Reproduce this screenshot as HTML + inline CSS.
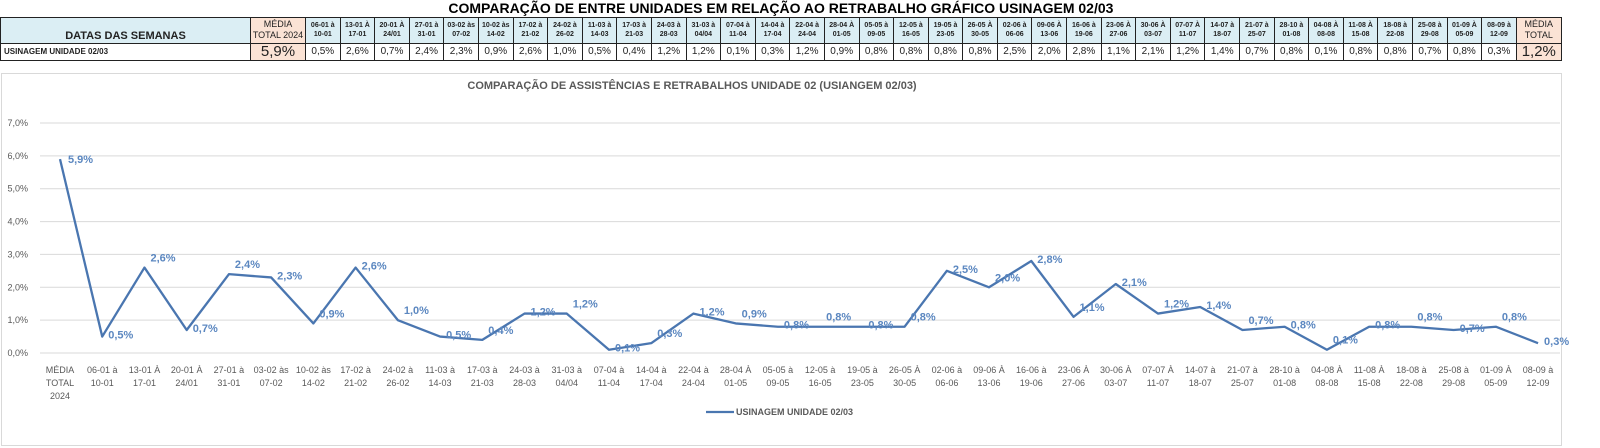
<!DOCTYPE html>
<html style="overflow:hidden;width:1600px;height:448px"><head><meta charset="utf-8">
<style>
html,body{margin:0;padding:0}
body{width:1600px;height:448px;background:#fff;font-family:"Liberation Sans",Arial,sans-serif;overflow:hidden;position:relative}
#wrap{position:absolute;left:0;top:0;width:1600px;height:448px;overflow:hidden}
#tbl{position:absolute;left:0;top:0;border-collapse:collapse;table-layout:fixed;width:1561px}
#tbl td{border:1px solid #222;padding:0;text-align:center;overflow:hidden;white-space:nowrap;box-sizing:border-box}
.h{background:#dbeef4;font-size:7px;font-weight:bold;line-height:9px;color:#222}
.v{font-size:10px;color:#222}
.m{background:#fbe3d5}
#chart{position:absolute;left:0;top:0}
</style></head><body>
<div id="wrap">
<table id="tbl">
<colgroup id="cg"></colgroup>
<tr style="height:17px"><td id="ttl" colspan="38" style="border:none;font-weight:bold;font-size:14px;text-align:center">COMPARAÇÃO DE ENTRE UNIDADES EM RELAÇÃO AO RETRABALHO GRÁFICO USINAGEM 02/03</td></tr>
<tr id="hr" style="height:26px"></tr>
<tr id="vr" style="height:17px"></tr>
</table>
<svg id="chart" width="1600" height="448"></svg>
</div>
<script>
const categories=["MÉDIA|TOTAL|2024","06-01 à|10-01","13-01 À|17-01","20-01 À|24/01","27-01 à|31-01","03-02 às|07-02","10-02 às|14-02","17-02 à|21-02","24-02 à|26-02","11-03 à|14-03","17-03 à|21-03","24-03 à|28-03","31-03 à|04/04","07-04 à|11-04","14-04 à|17-04","22-04 à|24-04","28-04 À|01-05","05-05 à|09-05","12-05 à|16-05","19-05 à|23-05","26-05 À|30-05","02-06 à|06-06","09-06 À|13-06","16-06 à|19-06","23-06 À|27-06","30-06 À|03-07","07-07 À|11-07","14-07 à|18-07","21-07 à|25-07","28-10 à|01-08","04-08 À|08-08","11-08 À|15-08","18-08 à|22-08","25-08 à|29-08","01-09 À|05-09","08-09 à|12-09"];
const values=[5.9,0.5,2.6,0.7,2.4,2.3,0.9,2.6,1.0,0.5,0.4,1.2,1.2,0.1,0.3,1.2,0.9,0.8,0.8,0.8,0.8,2.5,2.0,2.8,1.1,2.1,1.2,1.4,0.7,0.8,0.1,0.8,0.8,0.7,0.8,0.3];
const yTicks=[0,1,2,3,4,5,6,7];
const totalMean=1.2;
const fmt=v=>v.toFixed(1).replace('.',',')+'%';

const cg=document.getElementById('cg');
const widths=[250,55].concat(Array(35).fill(34.6)).concat([45]);
widths.forEach(w=>{const c=document.createElement('col');c.style.width=w+'px';cg.appendChild(c);});
const hr=document.getElementById('hr'),vr=document.getElementById('vr');
function cell(row,html,cls,name,style){const td=document.createElement('td');td.innerHTML=html;td.className=cls;


if(style)td.style.cssText=style;row.appendChild(td);return td;}
cell(hr,'DATAS DAS SEMANAS','h','header-label','font-size:11px;text-align:center;vertical-align:bottom;padding-bottom:2px');
cell(hr,'MÉDIA<br>TOTAL 2024','h m','header-media-2024','font-size:9px;line-height:11px;font-weight:normal');
categories.slice(1).forEach(c=>cell(hr,c.replace('|','<br>'),'h','header-week'));
cell(hr,'MÉDIA<br>TOTAL','h m','header-media-total','font-size:9px;line-height:11px;font-weight:normal');
cell(vr,'USINAGEM UNIDADE 02/03','v','row-label','text-align:left;font-size:8px;font-weight:bold;padding-left:3px');
cell(vr,fmt(values[0]),'v m','value-media-2024','font-size:15px;line-height:15px');
values.slice(1).forEach(v=>cell(vr,fmt(v),'v','value-week'));
cell(vr,fmt(totalMean),'v m','value-media-total','font-size:15px;line-height:15px');

const svg=document.getElementById('chart');const NS='http://www.w3.org/2000/svg';
function el(t,a,txt){const e=document.createElementNS(NS,t);for(const k in a)e.setAttribute(k,a[k]);if(txt!==undefined)e.textContent=txt;svg.appendChild(e);return e;}
const x0=60,dx=42.23,yBase=353,yTop=123,yMax=7;
const X=i=>x0+i*dx, Y=v=>yBase-(v/yMax)*(yBase-yTop);
let r=el('rect',{x:1.5,y:73.5,width:1560,height:372,fill:'#fff',stroke:'#d9d9d9'});


let t=el('text',{x:692,y:89,'text-anchor':'middle','font-size':11,'font-weight':'bold',fill:'#595959'},'COMPARAÇÃO DE ASSISTÊNCIAS E RETRABALHOS UNIDADE 02  (USIANGEM 02/03)');


yTicks.forEach(v=>{const g=el('line',{x1:40,x2:1560,y1:Y(v),y2:Y(v),stroke:'#d9d9d9'});


const l=el('text',{x:28,y:Y(v)+3,'text-anchor':'end','font-size':9,fill:'#595959'},v.toFixed(1).replace('.',',')+'%');

});
categories.forEach((c,i)=>{c.split('|').forEach((s,j)=>{const l=el('text',{x:X(i),y:373+j*13,'text-anchor':'middle','font-size':9,fill:'#595959'},s);

});});
const line=el('polyline',{points:values.map((v,i)=>X(i)+','+Y(v)).join(' '),fill:'none',stroke:'#4a76b0','stroke-width':2.3,'stroke-linejoin':'round'});


values.forEach((v,i)=>{const l=el('text',{x:X(i)+(i==0?8:6),y:Y(v)+(i==0?4:(i%2?2:-6)),'font-size':11,'font-weight':'bold',fill:'#5b87c0'},fmt(v));

});
const lg=el('line',{x1:706,x2:734,y1:412,y2:412,stroke:'#4a76b0','stroke-width':2.3});


const lt=el('text',{x:736,y:415,'font-size':9,'font-weight':'bold',fill:'#595959'},'USINAGEM UNIDADE 02/03');


</script>
</body></html>
